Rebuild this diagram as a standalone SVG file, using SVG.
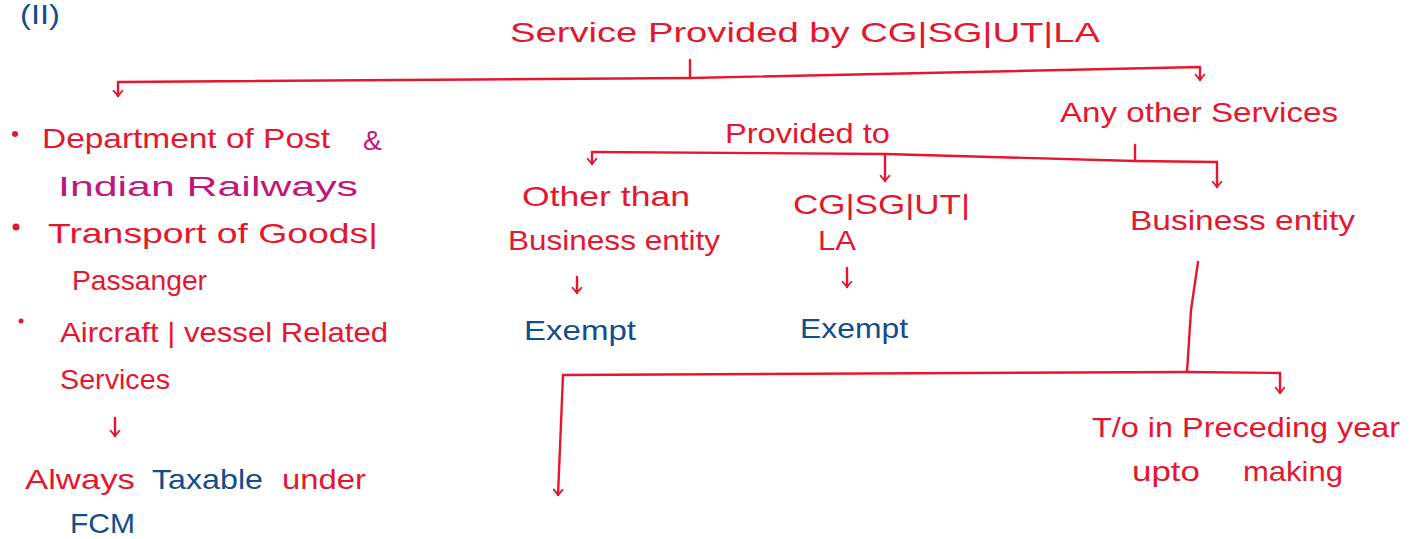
<svg xmlns="http://www.w3.org/2000/svg" width="1417" height="539" viewBox="0 0 1417 539">
<style>
text{font-family:"Liberation Sans","DejaVu Sans",sans-serif;font-size:28px;}
.r{fill:#e5172f;}
.b{fill:#124d8c;}
.m{fill:#c0177a;}
.ln{fill:none;stroke:#e5172f;stroke-width:2.4;stroke-linecap:round;stroke-linejoin:round;}
</style>
<defs>
<marker id="ah" markerUnits="userSpaceOnUse" markerWidth="14" markerHeight="14" viewBox="-8 -8 16 16" refX="0" refY="0" orient="auto">
<path d="M-6,-5 L0,0 L-6,5" fill="none" stroke="#e5172f" stroke-width="2.2" stroke-linecap="round" stroke-linejoin="round"/>
</marker>
</defs>
<rect width="1417" height="539" fill="#ffffff"/>
<g id="label-ii"><text class="b" x="20" y="24" font-size="19" textLength="40" lengthAdjust="spacingAndGlyphs">(II)</text></g>
<g id="title"><text class="r" x="510" y="42" font-size="32" textLength="590" lengthAdjust="spacingAndGlyphs">Service Provided by CG|SG|UT|LA</text></g>
<g id="left-branch">
<circle class="r" cx="15" cy="134" r="3"/>
<text class="r" x="42" y="148" textLength="288" lengthAdjust="spacingAndGlyphs">Department of Post</text>
<text class="m" x="363" y="150" font-size="30">&amp;</text>
<text class="m" x="58" y="196" font-size="32" textLength="300" lengthAdjust="spacingAndGlyphs">Indian Railways</text>
<circle class="r" cx="16" cy="227" r="3.5"/>
<text class="r" x="48" y="243" textLength="330" lengthAdjust="spacingAndGlyphs">Transport of Goods|</text>
<text class="r" x="72" y="290" font-size="26" textLength="135" lengthAdjust="spacingAndGlyphs">Passanger</text>
<circle class="r" cx="21" cy="321" r="2.5"/>
<text class="r" x="60" y="342" textLength="328" lengthAdjust="spacingAndGlyphs">Aircraft | vessel Related</text>
<text class="r" x="60" y="389" textLength="110" lengthAdjust="spacingAndGlyphs">Services</text>
</g>
<g id="left-result">
<text x="25" y="489"><tspan class="r" textLength="110" lengthAdjust="spacingAndGlyphs">Always</tspan><tspan class="b" x="152" textLength="111" lengthAdjust="spacingAndGlyphs">Taxable</tspan><tspan class="r" x="282" textLength="84" lengthAdjust="spacingAndGlyphs">under</tspan></text>
<text class="b" x="70" y="533" font-size="27" textLength="65" lengthAdjust="spacingAndGlyphs">FCM</text>
</g>
<g id="any-other"><text class="r" x="1060" y="122" textLength="278" lengthAdjust="spacingAndGlyphs">Any other Services</text></g>
<g id="provided-to"><text class="r" x="725" y="143" font-size="25" textLength="165" lengthAdjust="spacingAndGlyphs">Provided to</text></g>
<g id="other-than">
<text class="r" x="522" y="206" textLength="168" lengthAdjust="spacingAndGlyphs">Other than</text>
<text class="r" x="508" y="250" textLength="212" lengthAdjust="spacingAndGlyphs">Business entity</text>
</g>
<g id="govt">
<text class="r" x="793" y="214" textLength="177" lengthAdjust="spacingAndGlyphs">CG|SG|UT|</text>
<text class="r" x="818" y="250" textLength="38" lengthAdjust="spacingAndGlyphs">LA</text>
</g>
<g id="business-entity"><text class="r" x="1130" y="230" textLength="225" lengthAdjust="spacingAndGlyphs">Business entity</text></g>
<g id="exempt-1"><text class="b" x="524" y="340" font-size="30" textLength="112" lengthAdjust="spacingAndGlyphs">Exempt</text></g>
<g id="exempt-2"><text class="b" x="800" y="338" font-size="30" textLength="108" lengthAdjust="spacingAndGlyphs">Exempt</text></g>
<g id="turnover">
<text class="r" x="1092" y="437" textLength="308" lengthAdjust="spacingAndGlyphs">T/o in Preceding year</text>
<text class="r" y="481"><tspan x="1132" textLength="68" lengthAdjust="spacingAndGlyphs">upto</tspan><tspan x="1243" textLength="100" lengthAdjust="spacingAndGlyphs">making</tspan></text>
</g>
<g id="connectors">
<path class="ln" d="M690,60 L690,78"/>
<path class="ln" d="M690,78 L118,82 L118,96" marker-end="url(#ah)"/>
<path class="ln" d="M690,78 L1200,67 L1200,80" marker-end="url(#ah)"/>
<path class="ln" d="M592,152 L885,154 L1135,161 L1217,162"/>
<path class="ln" d="M1135,145 L1135,161"/>
<path class="ln" d="M592,152 L592,164" marker-end="url(#ah)"/>
<path class="ln" d="M885,154 L885,181" marker-end="url(#ah)"/>
<path class="ln" d="M1217,162 L1217,187" marker-end="url(#ah)"/>
<path class="ln" d="M577,277 L577,293" marker-end="url(#ah)"/>
<path class="ln" d="M847,268 L847,287" marker-end="url(#ah)"/>
<path class="ln" d="M115,418 L115,436" marker-end="url(#ah)"/>
<path class="ln" d="M1198,262 L1191,310 L1187,372"/>
<path class="ln" d="M563,375 L1187,372 L1280,373"/>
<path class="ln" d="M563,375 L558,495" marker-end="url(#ah)"/>
<path class="ln" d="M1280,373 L1280,393" marker-end="url(#ah)"/>
</g>
</svg>
